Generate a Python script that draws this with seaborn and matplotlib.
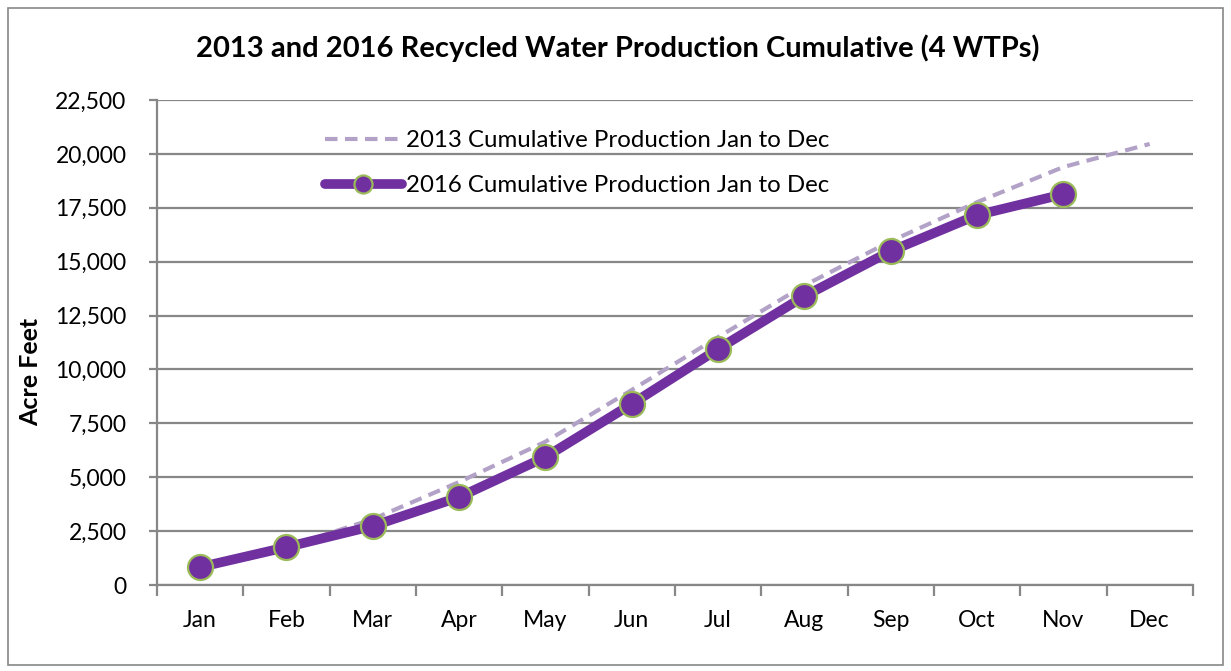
import pandas as pd
import matplotlib.pyplot as plt
import seaborn as sns
from matplotlib.patches import Rectangle
from matplotlib.ticker import FuncFormatter, MultipleLocator

# data
months = ['Jan', 'Feb', 'Mar', 'Apr', 'May', 'Jun', 'Jul', 'Aug', 'Sep', 'Oct', 'Nov', 'Dec']
cum_2013 = [830, 1760, 3060, 4780, 6650, 9050, 11500, 13900, 15950, 17760, 19390, 20460]
cum_2016 = [835, 1760, 2740, 4080, 5940, 8400, 10950, 13400, 15490, 17160, 18130]

label_2013 = '2013 Cumulative Production Jan to Dec'
label_2016 = '2016 Cumulative Production Jan to Dec'

df13 = pd.DataFrame({'pos': range(len(cum_2013)), 'af': cum_2013})
df16 = pd.DataFrame({'pos': range(len(cum_2016)), 'af': cum_2016})

sns.set_style('white')
plt.rcParams['font.family'] = ['Lato', 'DejaVu Sans']
plt.rcParams['text.color'] = 'black'
plt.rcParams['xtick.color'] = 'black'
plt.rcParams['ytick.color'] = 'black'

fig = plt.figure(figsize=(12.31, 6.71), dpi=100)
ax = fig.add_axes([0.1275, 0.128, 0.8415, 0.723])

grid_col = '#878787'

sns.lineplot(data=df13, x='pos', y='af', ax=ax, color='#B3A2C7', linewidth=3,
             label=label_2013, dashes=False)
ax.lines[-1].set_dashes([3, 1.8])
sns.lineplot(data=df16, x='pos', y='af', ax=ax, color='#7030A0', linewidth=7,
             marker='o', markersize=18, markerfacecolor='#7030A0',
             markeredgecolor='#9BBB59', markeredgewidth=1.6, label=label_2016)

ax.set_xlim(-0.5, 11.5)
ax.set_ylim(0, 22500)
ax.yaxis.set_major_locator(MultipleLocator(2500))
ax.yaxis.set_major_formatter(FuncFormatter(lambda v, p: f'{int(v):,}'))
ax.yaxis.grid(True, color=grid_col, linewidth=1.6)
ax.set_axisbelow(True)

# categories centred between boundary ticks, excel style
ax.set_xticks([i - 0.5 for i in range(13)])
ax.set_xticklabels([])
ax.set_xticks(range(12), minor=True)
ax.set_xticklabels(months, minor=True)
ax.tick_params(axis='x', which='major', direction='out', length=8, width=1.6,
               color=grid_col, bottom=True)
ax.tick_params(axis='x', which='minor', length=0, pad=18, labelsize=16.5,
               labelcolor='black')
ax.tick_params(axis='y', direction='out', length=6, width=1.6, color=grid_col,
               left=True, pad=16, labelsize=16.5, labelcolor='black')

for s in ['top', 'right']:
    ax.spines[s].set_visible(False)
for s in ['left', 'bottom']:
    ax.spines[s].set_color(grid_col)
    ax.spines[s].set_linewidth(1.6)

ax.set_xlabel('')
ax.set_ylabel('Acre Feet', fontsize=18, fontweight='bold', color='black')
ax.yaxis.set_label_coords(-0.111, 0.44)

fig.text(0.502, 1 - 48 / 671, '2013 and 2016 Recycled Water Production Cumulative (4 WTPs)',
         ha='center', va='center', fontsize=21, fontweight='bold', color='black')

leg = ax.legend(loc='upper left', bbox_to_anchor=(0.141, 0.982), frameon=False,
                fontsize=17.3, handlelength=3.2, handletextpad=0.2, labelspacing=1.0,
                numpoints=1)
leg.legend_handles[1].set_markersize(13)

fig.patches.append(Rectangle((8 / 1231, 6 / 671), 1215 / 1231, 657 / 671,
                             transform=fig.transFigure, fill=False,
                             edgecolor=grid_col, linewidth=1.2))

fig.savefig('out.png', dpi=100)
